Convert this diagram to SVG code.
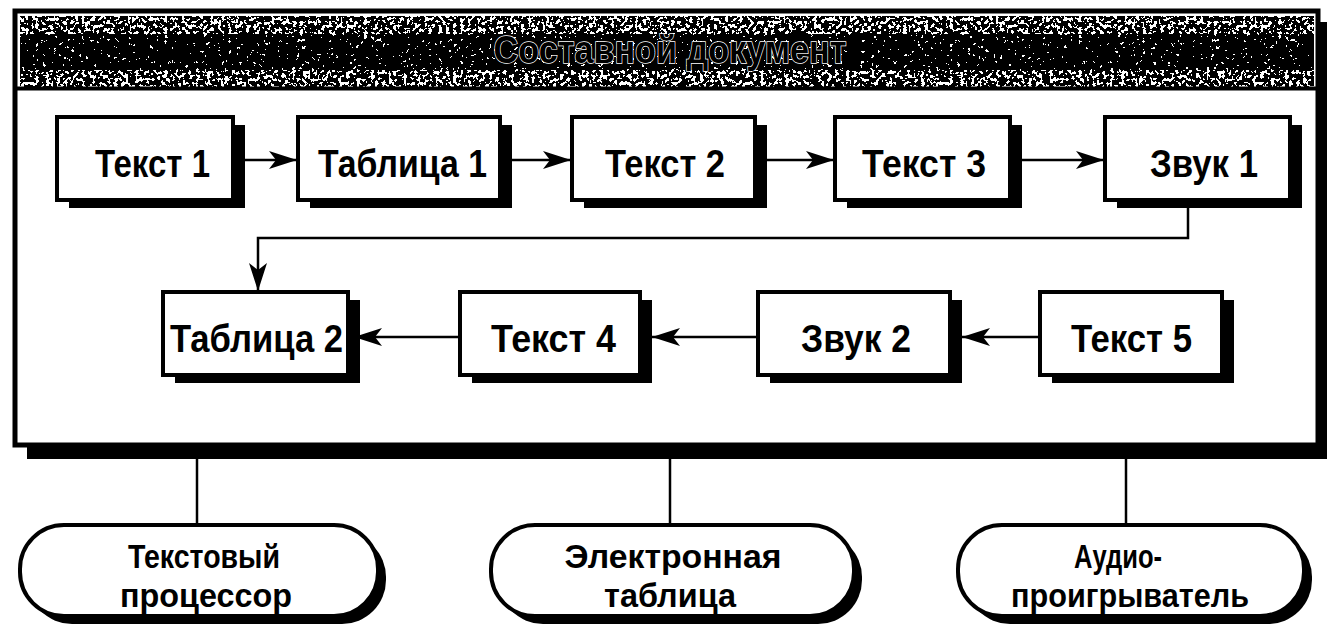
<svg xmlns="http://www.w3.org/2000/svg" width="1327" height="640" viewBox="0 0 1327 640">
<style>
.box{fill:#fff;stroke:#000;stroke-width:4}
.sh{fill:#000}
.pill{fill:#fff;stroke:#000;stroke-width:4}
.lbl{font-family:"Liberation Sans","Noto Sans",Arial,sans-serif;font-weight:bold;font-size:38px;fill:#000}
.plbl{font-family:"Liberation Sans","Noto Sans",Arial,sans-serif;font-weight:bold;font-size:34px;fill:#000;text-anchor:middle}
.ttl{font-family:"Liberation Sans","Noto Sans",Arial,sans-serif;font-weight:bold;font-size:38px;fill:#000;stroke:#fff;stroke-width:1.4;paint-order:stroke;text-anchor:middle}
.con{fill:none;stroke:#000;stroke-width:2.5}
</style>
<defs>
<marker id="arr" markerWidth="28" markerHeight="18" refX="28" refY="9" orient="auto" markerUnits="userSpaceOnUse">
<path d="M0,0 L28,9 L0,18 L7,9 Z" fill="#000"/>
</marker>
<filter id="nz1" x="0" y="0" width="1" height="1" color-interpolation-filters="sRGB">
<feTurbulence type="fractalNoise" baseFrequency="0.28" numOctaves="2" seed="4" result="t"/>
<feColorMatrix in="t" type="matrix" values="0 0 0 0 0  0 0 0 0 0  0 0 0 0 0  1 0 0 0 0" result="a"/>
<feComponentTransfer in="a" result="b"><feFuncA type="discrete" tableValues="0 0 0 0 0 0 0 0 0 1 1 1 1 1 1 1 1 1 1 1"/></feComponentTransfer>
<feComposite in="b" in2="SourceGraphic" operator="in"/>
</filter>
<filter id="nz2" x="0" y="0" width="1" height="1" color-interpolation-filters="sRGB">
<feTurbulence type="fractalNoise" baseFrequency="0.28" numOctaves="2" seed="11" result="t"/>
<feColorMatrix in="t" type="matrix" values="0 0 0 0 0  0 0 0 0 0  0 0 0 0 0  1 0 0 0 0" result="a"/>
<feComponentTransfer in="a" result="b"><feFuncA type="discrete" tableValues="0 0 0 0 0 0 0 1 1 1 1 1 1 1 1 1 1 1 1 1"/></feComponentTransfer>
<feComposite in="b" in2="SourceGraphic" operator="in"/>
</filter>
</defs>

<g id="document">
<rect x="27" y="22" width="1300" height="437" class="sh"/>
<rect x="15" y="11" width="1303" height="434" fill="#fff" stroke="#000" stroke-width="5"/>
<rect x="20" y="16" width="1294" height="71" fill="#fff"/>
<rect x="20" y="16" width="1294" height="71" fill="#000" filter="url(#nz1)"/>
<rect x="20" y="34" width="1294" height="36" fill="#000" filter="url(#nz2)"/>
<line x1="15" y1="88.5" x2="1318" y2="88.5" stroke="#000" stroke-width="4"/>
<text class="ttl" x="670" y="63" textLength="353" lengthAdjust="spacingAndGlyphs">Составной документ</text>
</g>

<g id="connectors">
<line class="con" x1="245" y1="160" x2="297" y2="160" marker-end="url(#arr)"/>
<line class="con" x1="512" y1="160" x2="571" y2="160" marker-end="url(#arr)"/>
<line class="con" x1="767" y1="160" x2="834" y2="160" marker-end="url(#arr)"/>
<line class="con" x1="1022" y1="160" x2="1104" y2="160" marker-end="url(#arr)"/>
<polyline class="con" points="1188,208 1188,238 258,238 258,291" marker-end="url(#arr)"/>
<line class="con" x1="460" y1="337" x2="354" y2="337" marker-end="url(#arr)"/>
<line class="con" x1="758" y1="337" x2="652" y2="337" marker-end="url(#arr)"/>
<line class="con" x1="1040" y1="337" x2="962" y2="337" marker-end="url(#arr)"/>
<line class="con" x1="197" y1="459" x2="197" y2="525"/>
<line class="con" x1="670" y1="459" x2="670" y2="525"/>
<line class="con" x1="1126" y1="459" x2="1126" y2="525"/>
</g>

<g id="text1">
<rect x="69" y="125" width="176" height="83" class="sh"/>
<rect x="57" y="117" width="176" height="83" class="box"/>
<text class="lbl" x="95" y="177" textLength="115" lengthAdjust="spacingAndGlyphs">Текст 1</text>
</g>
<g id="table1">
<rect x="310" y="125" width="202" height="83" class="sh"/>
<rect x="298" y="117" width="202" height="83" class="box"/>
<text class="lbl" x="318" y="177" textLength="169" lengthAdjust="spacingAndGlyphs">Таблица 1</text>
</g>
<g id="text2">
<rect x="584" y="125" width="183" height="83" class="sh"/>
<rect x="572" y="117" width="183" height="83" class="box"/>
<text class="lbl" x="605" y="177" textLength="120" lengthAdjust="spacingAndGlyphs">Текст 2</text>
</g>
<g id="text3">
<rect x="847" y="125" width="175" height="83" class="sh"/>
<rect x="835" y="117" width="175" height="83" class="box"/>
<text class="lbl" x="862" y="177" textLength="124" lengthAdjust="spacingAndGlyphs">Текст 3</text>
</g>
<g id="sound1">
<rect x="1117" y="125" width="185" height="83" class="sh"/>
<rect x="1105" y="117" width="185" height="83" class="box"/>
<text class="lbl" x="1150" y="177" textLength="108" lengthAdjust="spacingAndGlyphs">Звук 1</text>
</g>

<g id="table2">
<rect x="175" y="300" width="185" height="83" class="sh"/>
<rect x="163" y="292" width="185" height="83" class="box"/>
<text class="lbl" x="170" y="352" textLength="173" lengthAdjust="spacingAndGlyphs">Таблица 2</text>
</g>
<g id="text4">
<rect x="472" y="300" width="180" height="83" class="sh"/>
<rect x="460" y="292" width="180" height="83" class="box"/>
<text class="lbl" x="491" y="352" textLength="125" lengthAdjust="spacingAndGlyphs">Текст 4</text>
</g>
<g id="sound2">
<rect x="770" y="300" width="192" height="83" class="sh"/>
<rect x="758" y="292" width="192" height="83" class="box"/>
<text class="lbl" x="801" y="352" textLength="110" lengthAdjust="spacingAndGlyphs">Звук 2</text>
</g>
<g id="text5">
<rect x="1052" y="300" width="182" height="83" class="sh"/>
<rect x="1040" y="292" width="182" height="83" class="box"/>
<text class="lbl" x="1071" y="352" textLength="121" lengthAdjust="spacingAndGlyphs">Текст 5</text>
</g>

<g id="wordproc">
<rect x="28" y="533" width="358" height="91" rx="44" class="sh"/>
<rect x="20" y="525" width="358" height="91" rx="44" class="pill"/>
<text class="plbl" x="204" y="568" textLength="152" lengthAdjust="spacingAndGlyphs">Текстовый</text>
<text class="plbl" x="206" y="607" textLength="172" lengthAdjust="spacingAndGlyphs">процессор</text>
</g>
<g id="spreadsheet">
<rect x="499" y="533" width="363" height="91" rx="44" class="sh"/>
<rect x="491" y="525" width="363" height="91" rx="44" class="pill"/>
<text class="plbl" x="673" y="568" textLength="217" lengthAdjust="spacingAndGlyphs">Электронная</text>
<text class="plbl" x="670" y="607" textLength="132" lengthAdjust="spacingAndGlyphs">таблица</text>
</g>
<g id="audioplayer">
<rect x="966" y="533" width="346" height="91" rx="44" class="sh"/>
<rect x="958" y="525" width="346" height="91" rx="44" class="pill"/>
<text class="plbl" x="1118" y="568" textLength="88" lengthAdjust="spacingAndGlyphs">Аудио-</text>
<text class="plbl" x="1130" y="607" textLength="238" lengthAdjust="spacingAndGlyphs">проигрыватель</text>
</g>
</svg>
